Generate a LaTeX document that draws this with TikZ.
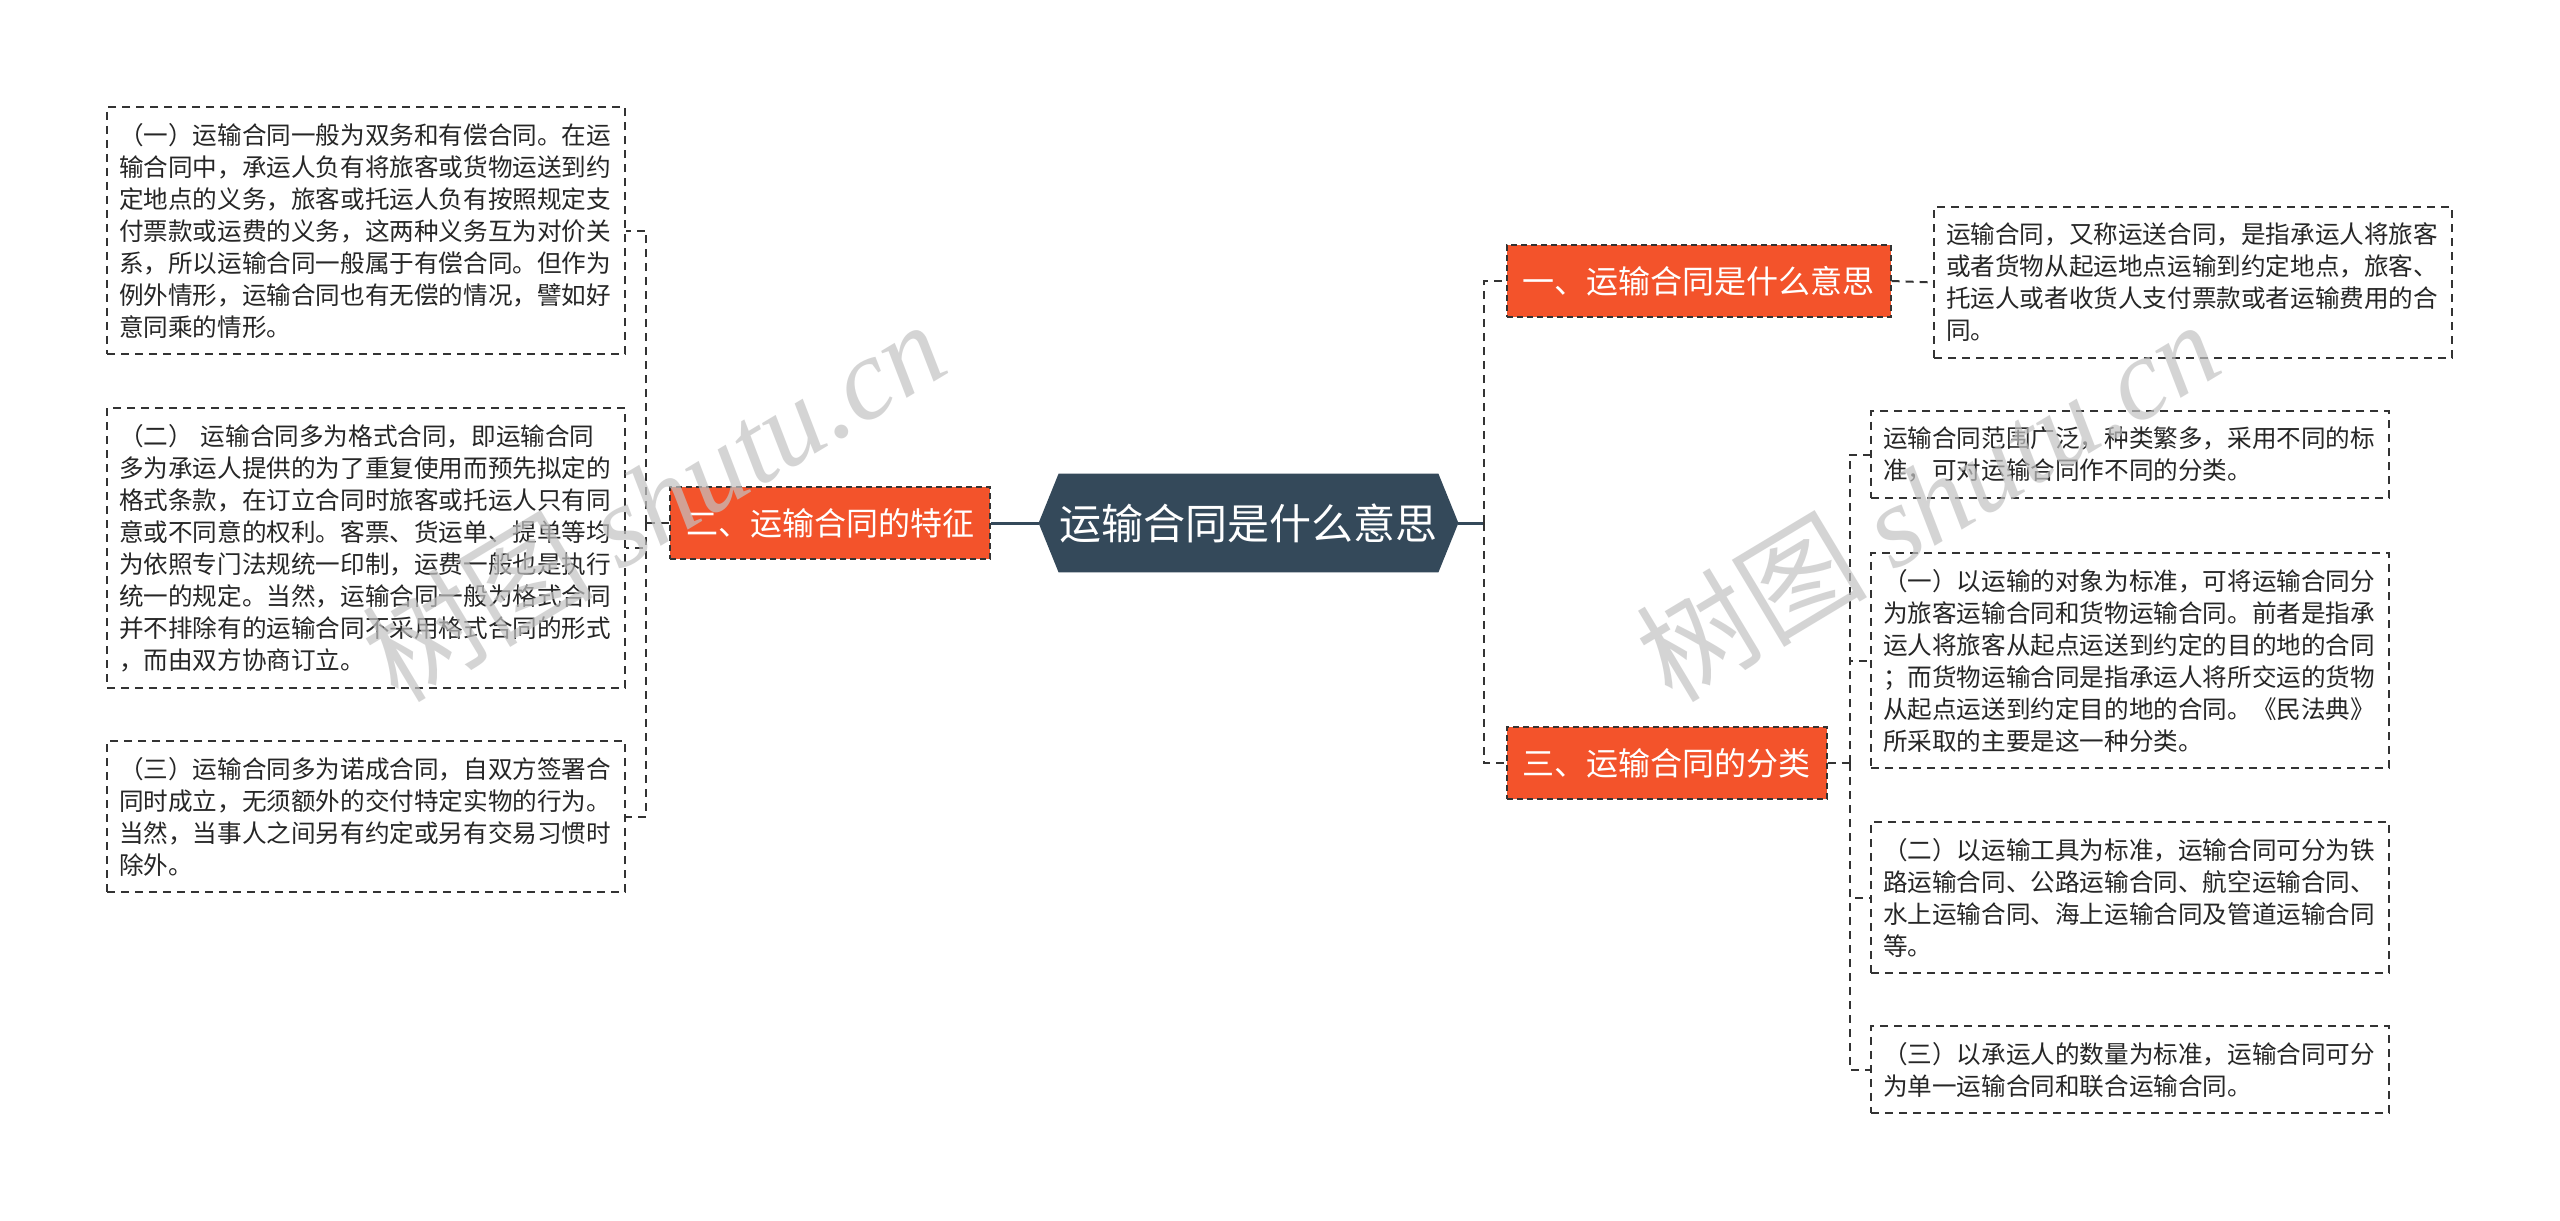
\documentclass[tikz,border=0pt]{standalone}
\usepackage{fontspec}
\setmainfont{Liberation Sans}
\newfontfamily\cjk{Noto Sans CJK SC}
\newfontfamily\wmserif{Liberation Serif}
\usetikzlibrary{backgrounds,calc}
\definecolor{orangered}{RGB}{243,83,43}
\definecolor{slate}{RGB}{52,73,90}
\definecolor{edgegray}{RGB}{51,51,51}
\definecolor{wmgray}{RGB}{195,195,195}
\tikzset{
  leaf/.style={draw=edgegray, line width=1pt, dash pattern=on 4pt off 3pt, fill=white,
    anchor=north west, text width=247pt, inner xsep=6pt, inner ysep=8pt, align=left,
    font=\cjk\fontsize{12.3}{16}\selectfont, text=black!85},
  topic/.style={draw=edgegray, line width=0.8pt, dash pattern=on 3pt off 2pt, fill=orangered,
    text=white, font=\cjk\fontsize{16}{19}\selectfont, minimum height=36pt, inner xsep=8pt},
  root/.style={text=white, font=\cjk\fontsize{21}{25}\selectfont, minimum width=209.5pt,
    minimum height=49pt, inner sep=0pt},
  conn/.style={draw=edgegray, line width=1pt, dash pattern=on 4pt off 3pt},
  solidconn/.style={draw=slate, line width=1.5pt},
  wm/.style={text=wmgray, opacity=0.7, rotate=31, inner sep=0pt}
}
\begin{document}
\begin{tikzpicture}[x=0.5pt,y=-0.5pt]
\useasboundingbox (0,0) rectangle (2560,1221);

% root
\node[root] (C) at (1248.5,523) {运输合同是什么意思};

% main topics
\node[topic, anchor=east] (L) at (991,523) {二、运输合同的特征};
\node[topic, anchor=west] (R1) at (1506,281) {一、运输合同是什么意思};
\node[topic, anchor=west] (R3) at (1506,763) {三、运输合同的分类};

% left leaves
\node[leaf] (b1) at (106,106) {（一）运输合同一般为双务和有偿合同。在运\\输合同中，承运人负有将旅客或货物运送到约\\定地点的义务，旅客或托运人负有按照规定支\\付票款或运费的义务，这两种义务互为对价关\\系，所以运输合同一般属于有偿合同。但作为\\例外情形，运输合同也有无偿的情况，譬如好\\意同乘的情形。};
\node[leaf] (b2) at (106,407) {（二）\ 运输合同多为格式合同，即运输合同\\多为承运人提供的为了重复使用而预先拟定的\\格式条款，在订立合同时旅客或托运人只有同\\意或不同意的权利。客票、货运单、提单等均\\为依照专门法规统一印制，运费一般也是执行\\统一的规定。当然，运输合同一般为格式合同\\并不排除有的运输合同不采用格式合同的形式\\，而由双方协商订立。};
\node[leaf] (b3) at (106,740) {（三）运输合同多为诺成合同，自双方签署合\\同时成立，无须额外的交付特定实物的行为。\\当然，当事人之间另有约定或另有交易习惯时\\除外。};

% right leaves
\node[leaf] (r0) at (1933,206) {运输合同，又称运送合同，是指承运人将旅客\\或者货物从起运地点运输到约定地点，旅客、\\托运人或者收货人支付票款或者运输费用的合\\同。};
\node[leaf] (ra) at (1870,410) {运输合同范围广泛，种类繁多，采用不同的标\\准，可对运输合同作不同的分类。};
\node[leaf] (rb) at (1870,552) {（一）以运输的对象为标准，可将运输合同分\\为旅客运输合同和货物运输合同。前者是指承\\运人将旅客从起点运送到约定的目的地的合同\\；而货物运输合同是指承运人将所交运的货物\\从起点运送到约定目的地的合同。《民法典》\\所采取的主要是这一种分类。};
\node[leaf] (rc) at (1870,821) {（二）以运输工具为标准，运输合同可分为铁\\路运输合同、公路运输合同、航空运输合同、\\水上运输合同、海上运输合同及管道运输合同\\等。};
\node[leaf] (rd) at (1870,1025) {（三）以承运人的数量为标准，运输合同可分\\为单一运输合同和联合运输合同。};

% background + root hexagon
\begin{scope}[on background layer]
  \fill[white] (0,0) rectangle (2560,1221);
  \fill[slate] (C.west) -- ([xshift=10pt]C.north west) -- ([xshift=-10pt]C.north east)
    -- (C.east) -- ([xshift=-10pt]C.south east) -- ([xshift=10pt]C.south west) -- cycle;
\end{scope}

% connectors left
\draw[solidconn] (L.east) -- (C.west);
\draw[conn] (L.west) -- ++(-23,0) coordinate (lj);
\draw[conn] (lj) |- (b1.east);
\draw[conn] (lj) |- (b2.east);
\draw[conn] (lj) |- (b3.east);

% connectors right
\draw[solidconn] (C.east) -- ++(26,0) coordinate (rj);
\draw[conn] (rj) |- (R1.west);
\draw[conn] (rj) |- (R3.west);
\draw[conn] (R1.east) -- (r0.west);
\draw[conn] (R3.east) -- ++(22,0) coordinate (sj);
\draw[conn] (sj) |- (ra.west);
\draw[conn] (sj) |- (rb.west);
\draw[conn] (sj) |- (rc.west);
\draw[conn] (sj) |- (rd.west);

% watermarks
\node[wm] (w1) at (653,500) {\cjk\fontsize{58}{60}\selectfont 树图 \wmserif\itshape shutu.cn};
\node[wm] (w2) at (1927,500) {\cjk\fontsize{58}{60}\selectfont 树图 \wmserif\itshape shutu.cn};
\end{tikzpicture}
\end{document}
